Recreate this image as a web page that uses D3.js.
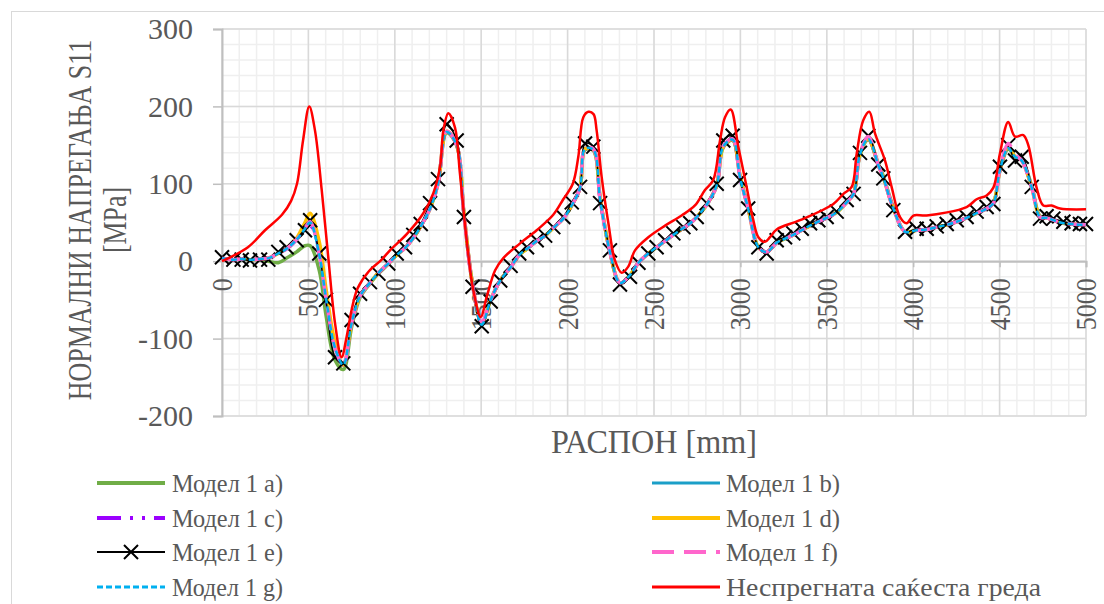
<!DOCTYPE html>
<html><head><meta charset="utf-8">
<script src="https://cdn.jsdelivr.net/npm/d3@7"></script>
<style>
body{margin:0;background:#fff;}
text{font-family:"Liberation Serif","Times New Roman",serif;fill:#595959;}
</style>
</head><body>
<svg id="c" width="1104" height="604"></svg>
<script>
// ---------- DATA ----------
const xTicks = [0,500,1000,1500,2000,2500,3000,3500,4000,4500,5000];
const yTicks = [-200,-100,0,100,200,300];
const xTitle = "РАСПОН [mm]";
const yTitle1 = "НОРМАЛНИ НАПРЕГАЊА S11";
const yTitle2 = "[MPa]";

const modelX = [0,66,114,162,220,268,326,374,432,480,510,563,602,654,702,750,799,856,905,962,
1011,1059,1107,1150,1204,1250,1300,1358,1400,1450,1503,1555,1610,1670,1720,1765,1821,1870,1917,1975,
2024,2072,2101,2149,2188,2245,2303,2361,2410,2467,2515,2564,2612,2670,2710,2747,2805,2863,2901,2955,
2998,3045,3104,3152,3210,3258,3306,3355,3403,3451,3499,3557,3615,3655,3692,3740,3798,3827,3885,3953,
4020,4078,4136,4194,4252,4309,4367,4425,4464,4502,4550,4589,4628,4686,4734,4772,4811,4869,4917,4965,5000];

const modelA = [4,2,3,2,2,0,-2,4,12,20, 20,-12,-70,-128,-140,-85,-47,-29,-16,-4,
8,17,30,45,68,100,166,150,62,-30, -80,-50,-25,-8,8,16,26,33,43,55,
72,95,144,143,82,12,-28,-18,-2,10, 18,26,34,43,49,57,73,98,147,156,
110,70,18,12,24,29,34,40,46,51, 56,63,76,87,137,157,126,110,70,38,
40,41,44,47,51,56,62,68,75,117, 145,135,131,97,58,56,53,49,48,47,47];

const modelB = [4,2,3,2,3,4,10,16,28,42, 50,8,-48,-112,-134,-80,-45,-28,-15,-3,
8,17,30,45,68,100,168,150,60,-30, -82,-50,-25,-8,8,16,26,33,43,55,
72,95,145,144,80,12,-28,-18,-2,10, 18,26,34,43,49,57,73,98,148,157,
108,68,18,12,24,29,34,40,46,51, 56,63,76,87,138,158,124,108,68,38,
40,41,44,47,51,56,62,68,75,118, 146,135,130,95,57,56,53,49,48,47,47];

const modelC = [4,2,3,2,3,4,10,16,28,42, 46,18,-45,-110,-134,-80,-45,-28,-15,-3,
8,17,30,45,68,100,168,150,60,-30, -80,-50,-25,-8,8,16,26,33,43,55,
72,95,145,144,80,12,-28,-18,-2,10, 18,26,34,43,49,57,73,98,148,157,
108,68,18,12,24,29,34,40,46,51, 56,63,76,87,138,158,124,108,68,38,
40,41,44,47,51,56,62,68,75,118, 148,135,130,95,57,56,53,49,48,47,47];

const modelD = [4,2,3,2,3,4,10,17,30,50, 62,25,-36,-105,-134,-80,-45,-28,-15,-3,
8,17,30,45,68,100,168,150,62,-30, -80,-50,-25,-8,8,16,26,33,43,55,
72,95,145,144,82,12,-28,-18,-2,10, 18,26,34,43,49,57,73,98,148,157,
110,68,18,12,24,29,34,40,46,51, 56,63,76,87,138,158,124,108,68,38,
40,41,44,47,51,56,62,68,75,118, 148,135,130,95,57,56,53,49,48,47,47];

const modelE = [5,2,2,1,2,2,12,18,27,40, 53,10,-50,-124,-132,-76,-42,-27,-16,-3,
10,18,34,48,75,106,177,156,57,-33, -84,-52,-25,-6,10,18,27,33,44,57,
76,96,152,148,75,14,-30,-20,-2,10, 18,27,36,44,49,57,75,100,156,162,
105,68,18,10,27,31,36,42,49,53, 57,64,79,87,140,162,125,107,66,38,
42,42,45,48,53,57,64,70,74,122, 150,130,135,96,55,58,55,51,49,48,48];

const modelF = [4,2,3,2,3,4,10,16,28,43, 51,8,-48,-112,-134,-80,-45,-28,-15,-3,
8,17,30,45,68,100,168,150,60,-30, -78,-50,-25,-8,8,16,26,33,43,55,
72,95,146,145,80,12,-28,-18,-2,10, 18,26,34,43,49,57,73,98,149,158,
108,68,18,12,24,29,34,40,46,51, 56,63,76,87,139,161,124,108,68,38,
40,41,44,47,51,56,62,68,75,119, 152,138,130,95,57,56,53,49,48,47,47];

const modelG = [4,2,3,2,3,4,10,16,28,42, 50,8,-48,-112,-134,-80,-45,-28,-15,-3,
8,17,30,45,68,100,167,150,60,-30, -82,-50,-25,-8,8,16,26,33,43,55,
72,95,145,144,80,12,-28,-18,-2,10, 18,26,34,43,49,57,73,98,148,157,
108,68,18,12,24,29,34,40,46,51, 56,63,76,87,138,158,124,108,68,38,
40,41,44,47,51,56,62,68,75,118, 146,135,130,95,57,56,53,49,48,47,47];

const redX = [0,150,249,347,400,434,469,505,538,577,615,654,692,721,750,785,850,924,972,1069,
1165,1223,1262,1281,1310,1348,1377,1416,1454,1497,1532,1580,1628,1725,1821,1917,1975,2030,2062,2091,
2120,2150,2168,2197,2236,2274,2313,2351,2390,2467,2564,2660,2737,2795,2843,2882,2911,2944,2988,3036,
3075,3104,3142,3171,3210,3345,3538,3596,3644,3673,3711,3746,3779,3837,3875,3924,3962,4001,4078,4309,
4367,4425,4464,4502,4550,4589,4637,4666,4714,4753,4801,4850,5000];
const redY = [0,18,40,60,78,100,156,200,169,92,5,-80,-124,-98,-63,-35,-13,2,14,35,
62,88,122,169,191,173,113,27,-37,-72,-46,-12,4,23,40,60,80,100,135,186,
193,190,169,109,49,1,-15,-7,14,31,46,59,72,92,105,156,186,196,148,96,
53,31,25,31,41,53,74,87,96,139,182,193,165,130,96,57,49,59,59,70,
80,85,95,139,180,161,163,150,95,72,72,68,67];

const seriesNames = ["Модел 1 a)","Модел 1 b)","Модел 1 c)","Модел 1 d)","Модел 1 e)","Модел 1 f)","Модел 1 g)","Неспрегната саќеста греда"];

// ---------- SETUP ----------
const svg = d3.select("#c");
const x = d3.scaleLinear().domain([0,5000]).range([222,1086]);
const y = d3.scaleLinear().domain([-200,300]).range([416,29]);
const fmt = d => String(d).replace("\u2212","-");

// outer chart border
svg.append("rect").attr("x",11.5).attr("y",11.5).attr("width",1200).attr("height",800)
  .attr("fill","none").attr("stroke","#d9d9d9").attr("stroke-width",1);

// minor grid
const g = svg.append("g");
g.selectAll(".vm").data(d3.range(0,5001,100)).join("line")
  .attr("x1",d=>x(d)).attr("x2",d=>x(d)).attr("y1",y(300)).attr("y2",y(-200))
  .attr("stroke","#efefef").attr("stroke-width",1.5);
g.selectAll(".hm").data(d3.range(-200,301,20)).join("line")
  .attr("x1",x(0)).attr("x2",x(5000)).attr("y1",d=>y(d)).attr("y2",d=>y(d))
  .attr("stroke","#efefef").attr("stroke-width",1.5);
// major grid
g.selectAll(".vM").data(xTicks).join("line")
  .attr("x1",d=>x(d)).attr("x2",d=>x(d)).attr("y1",y(300)).attr("y2",y(-200))
  .attr("stroke","#d9d9d9").attr("stroke-width",1.5);
g.selectAll(".hM").data(yTicks).join("line")
  .attr("x1",x(0)).attr("x2",x(5000)).attr("y1",d=>y(d)).attr("y2",d=>y(d))
  .attr("stroke","#d9d9d9").attr("stroke-width",1.5);

// y axis
const yAxis = d3.axisLeft(y).tickValues(yTicks).tickSize(9).tickPadding(20).tickFormat(fmt);
const ya = svg.append("g").attr("transform",`translate(${x(0)},0)`).call(yAxis);
ya.select(".domain").attr("stroke","#bfbfbf").attr("stroke-width",2);
ya.selectAll(".tick line").attr("stroke","#bfbfbf").attr("stroke-width",1.5);
ya.selectAll(".tick text").attr("font-size",30).attr("fill","#595959");

// x axis at y=0
const xAxis = d3.axisBottom(x).tickValues(xTicks).tickSize(6).tickFormat(fmt);
const xa = svg.append("g").attr("transform",`translate(0,${y(0)})`).call(xAxis);
xa.select(".domain").attr("stroke","#bfbfbf").attr("stroke-width",2);
xa.selectAll(".tick line").attr("stroke","#bfbfbf").attr("stroke-width",1.5);
xa.selectAll(".tick text")
  .attr("font-size",29).attr("fill","#595959")
  .attr("text-anchor","end")
  .attr("transform","rotate(-90)")
  .attr("x",-17).attr("y",0).attr("dy","0.33em")
  .attr("textLength",d=>String(d).length*13).attr("lengthAdjust","spacingAndGlyphs");

// axis titles
svg.append("text").attr("x",654).attr("y",453).attr("text-anchor","middle")
  .attr("font-size",33).attr("textLength",206).attr("lengthAdjust","spacingAndGlyphs").text(xTitle);
svg.append("text").attr("transform","translate(91,220) rotate(-90) scale(1,1.27)").attr("text-anchor","middle")
  .attr("font-size",26).text(yTitle1);
svg.append("text").attr("transform","translate(126,220) rotate(-90)").attr("text-anchor","middle")
  .attr("font-size",33).attr("textLength",66).attr("lengthAdjust","spacingAndGlyphs").text(yTitle2);

// ---------- SERIES ----------
const styles = [
  {color:"#70ad47", w:3.5, dash:null},
  {color:"#1b9fc8", w:2.5, dash:null},
  {color:"#9b00ff", w:3.5, dash:"24,9,3,9,3,9"},
  {color:"#ffc000", w:3.5, dash:null},
  {color:"#000000", w:1.5, dash:null, marker:true},
  {color:"#ff66cc", w:3.5, dash:"22,10"},
  {color:"#00b0f0", w:2.5, dash:"6,3"},
  {color:"#ff0000", w:2.5, dash:null}
];
const modelVals = [modelA,modelB,modelC,modelD,modelE,modelF,modelG];
const line = d3.line().x(d=>x(d[0])).y(d=>y(d[1])).curve(d3.curveCatmullRom.alpha(0.5));
const xPath = "M-7,-7L7,7M-7,7L7,-7";

const seriesData = modelVals.map(v=>modelX.map((xx,i)=>[xx,v[i]]));
seriesData.push(redX.map((xx,i)=>[xx,redY[i]]));

seriesData.forEach((sd,i)=>{
  const s = styles[i];
  const p = svg.append("path").datum(sd).attr("d",line)
    .attr("fill","none").attr("stroke",s.color).attr("stroke-width",s.w)
    .attr("stroke-linejoin","round");
  if(s.dash) p.attr("stroke-dasharray",s.dash);
  if(s.marker){
    svg.append("g").selectAll("path").data(sd).join("path")
      .attr("d",xPath).attr("transform",d=>`translate(${x(d[0])},${y(d[1])})`)
      .attr("stroke","#000").attr("stroke-width",2).attr("fill","none");
  }
});

// ---------- LEGEND ----------
const legPos = [[97,483],[652,483],[97,518],[652,518],[97,552],[652,552],[97,587],[652,587]];
const legLen = [111,114,111,114,111,112,111,315];
const lg = svg.append("g");
seriesNames.forEach((n,i)=>{
  const s = styles[i];
  const [lx,ly] = legPos[i];
  const l = lg.append("line").attr("x1",lx).attr("x2",lx+68).attr("y1",ly).attr("y2",ly)
    .attr("stroke",s.color).attr("stroke-width",s.marker?2:s.w+0.5);
  if(s.dash) l.attr("stroke-dasharray",s.dash);
  if(s.marker) lg.append("path").attr("d",xPath).attr("transform",`translate(${lx+34},${ly})`)
    .attr("stroke","#000").attr("stroke-width",2).attr("fill","none");
  lg.append("text").attr("x",lx+(i%2===0?75:74)).attr("y",ly).attr("dy","0.33em")
    .attr("font-size",26).attr("textLength",legLen[i]).attr("lengthAdjust","spacingAndGlyphs").text(n);
});
</script>
</body></html>
